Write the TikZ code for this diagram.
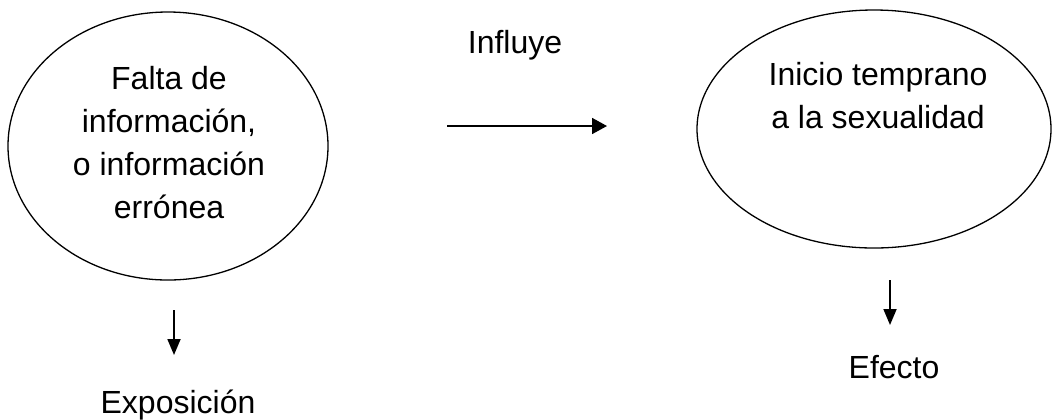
\documentclass[tikz,border=0pt]{standalone}
\usepackage{fontspec}
\setmainfont{Liberation Sans}
\usetikzlibrary{shapes.geometric,arrows.meta}

\begin{document}
\begin{tikzpicture}[x=0.5pt,y=-0.5pt,
  font=\fontsize{16}{21.5}\selectfont,
  bubble/.style={draw, ellipse, line width=0.65pt, inner sep=0pt},
  flecha/.style={line width=0.9pt, -{Triangle[length=7.5pt,width=8pt]}},
  bajada/.style={line width=0.9pt, -{Triangle[length=8pt,width=6.5pt]}}]
\useasboundingbox (0,0) rectangle (1052,419);

% the two ellipses
\node[bubble, minimum width=160pt, minimum height=134pt] (falta) at (168,146) {};
\node[align=center] (faltatxt) at (169,143)
  {Falta de\\información,\\o información\\errónea};
\node[bubble, minimum width=177pt, minimum height=119pt] (inicio) at (874,129) {};
\node[align=center] (iniciotxt) at (878,96) {Inicio temprano\\a la sexualidad};

% relation in the middle
\node[anchor=base] (influye) at (515,53) {Influye};
\coordinate (h1) at (447,126);
\coordinate (h2) at (607,126);
\draw[flecha] (h1)--(h2);

% below the ellipses
\coordinate (a1) at (174,310);
\coordinate (a2) at (174,355);
\draw[bajada] (a1)--(a2);
\node[anchor=base] (expo) at (178,413) {Exposición};

\coordinate (b1) at (890,280);
\coordinate (b2) at (890,325);
\draw[bajada] (b1)--(b2);
\node[anchor=base] (efecto) at (894,378) {Efecto};
\end{tikzpicture}
\end{document}
